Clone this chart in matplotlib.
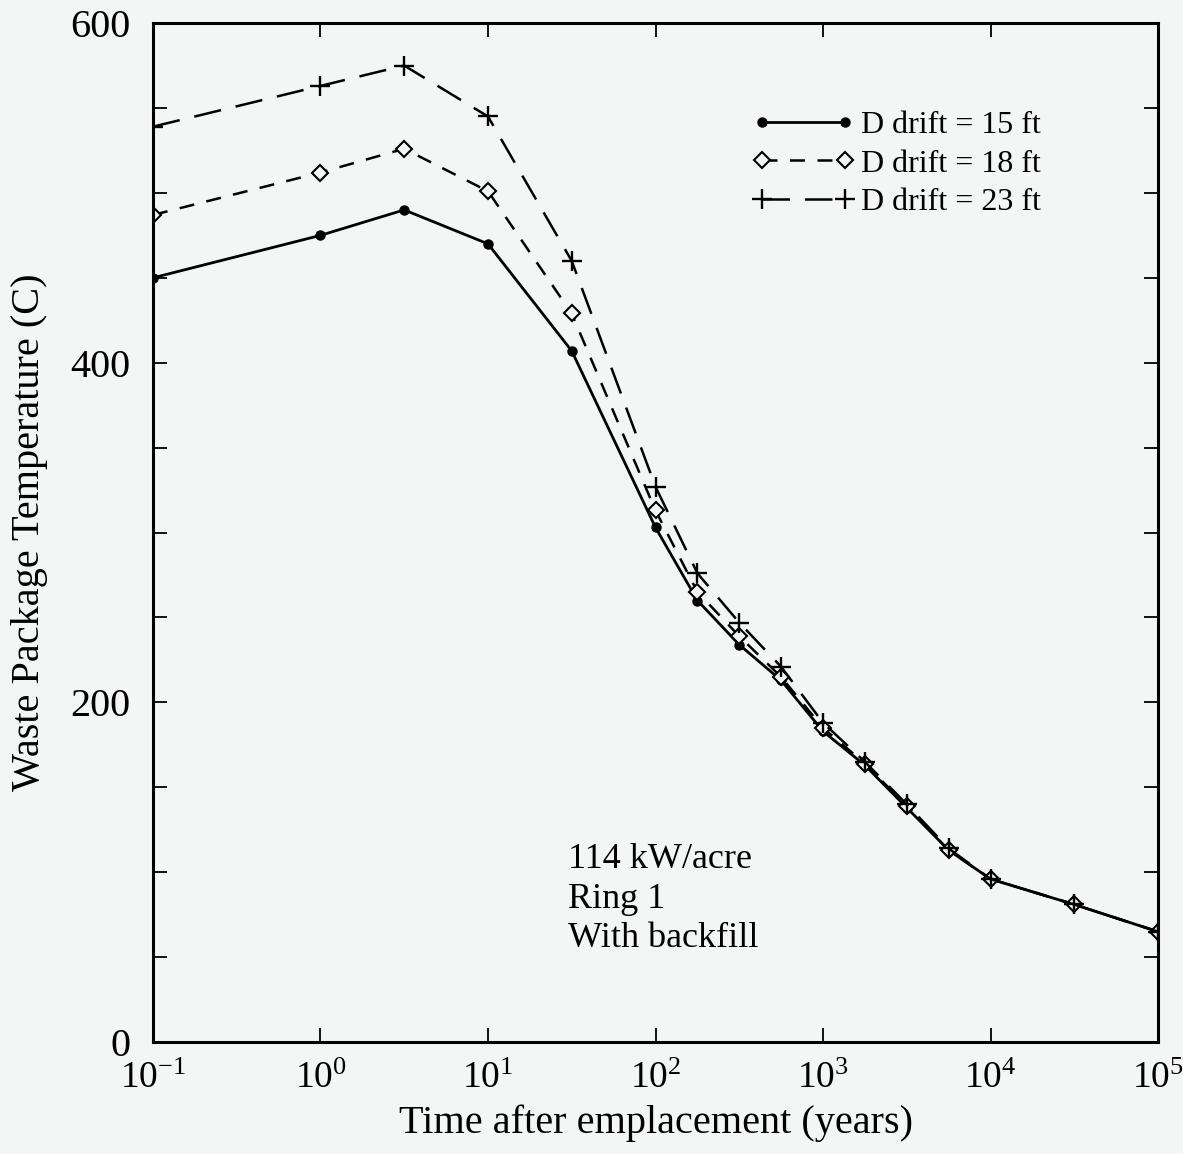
import matplotlib
matplotlib.use("Agg")
import matplotlib.pyplot as plt
from matplotlib.ticker import FixedLocator, MultipleLocator, NullLocator

plt.rcParams["font.family"] = ["Liberation Serif", "DejaVu Serif"]
plt.rcParams["mathtext.fontset"] = "custom"
plt.rcParams["mathtext.rm"] = "Liberation Serif"
plt.rcParams["mathtext.it"] = "Liberation Serif"

# time after emplacement (years)
years = [0.1, 1, 3.16, 10, 31.6, 100, 178, 316, 562, 1000, 1778, 3162,
         5623, 10000, 31623, 100000]
temp_15ft = [450, 475, 490, 470, 407, 303, 260, 234, 213, 183, 163, 138,
             113, 96, 81, 65]
temp_18ft = [487, 512, 526, 501, 429, 313, 265, 239, 215, 185, 164, 139,
             113, 96, 81, 65]
temp_23ft = [539, 563, 575, 545, 460, 327, 276, 247, 221, 188, 165, 140,
             114, 96, 81, 65]
labels = ["D drift = 15 ft", "D drift = 18 ft", "D drift = 23 ft"]
decades = [1e-1, 1e0, 1e1, 1e2, 1e3, 1e4, 1e5]
decade_labels = ["$10^{-1}$", "$10^{0}$", "$10^{1}$", "$10^{2}$",
                 "$10^{3}$", "$10^{4}$", "$10^{5}$"]

bg = "#f4f6f5"
fig = plt.figure(figsize=(11.83, 11.54), dpi=100)
fig.patch.set_facecolor(bg)
ax = fig.add_axes([0.1293, 0.097, 0.8496, 0.883])
ax.set_facecolor(bg)

ax.plot(years, temp_15ft, color="black", lw=2.0, marker="o", ms=6.5,
        label=labels[0])
ax.plot(years, temp_18ft, color="black", lw=1.8, ls=(0, (6, 5)),
        marker="D", ms=8, mfc=bg, mew=1.5, label=labels[1])
ax.plot(years, temp_23ft, color="black", lw=1.8, ls=(0, (11, 6)),
        marker="+", ms=14, mew=1.7, label=labels[2])

ax.set_xscale("log")
ax.set_xlim(0.1, 1e5)
ax.set_ylim(0, 600)
ax.xaxis.set_major_locator(FixedLocator(decades))
ax.set_xticklabels(decade_labels)
ax.xaxis.set_minor_locator(NullLocator())
ax.yaxis.set_major_locator(MultipleLocator(200))
ax.yaxis.set_minor_locator(MultipleLocator(50))
ax.tick_params(which="both", direction="in", top=True, right=True,
               length=10, width=1.3, labelsize=29, colors="black")
ax.tick_params(axis="x", pad=14, labelsize=27)
ax.tick_params(axis="y", pad=16)
for s in ax.spines.values():
    s.set_linewidth(2.2)

ax.set_xlabel("Time after emplacement (years)", fontsize=29, labelpad=6)
ax.set_ylabel("Waste Package Temperature (C)", fontsize=29, labelpad=16)

ax.text(30, 117, "114 kW/acre\nRing 1\nWith backfill", fontsize=26,
        linespacing=1.25, va="top", ha="left")

ax.legend(loc="upper right", bbox_to_anchor=(0.912, 0.942), frameon=False,
          fontsize=23, handlelength=3.2, handletextpad=0.2, labelspacing=0.28,
          numpoints=2)

fig.savefig("out.png", dpi=100, facecolor=bg)
